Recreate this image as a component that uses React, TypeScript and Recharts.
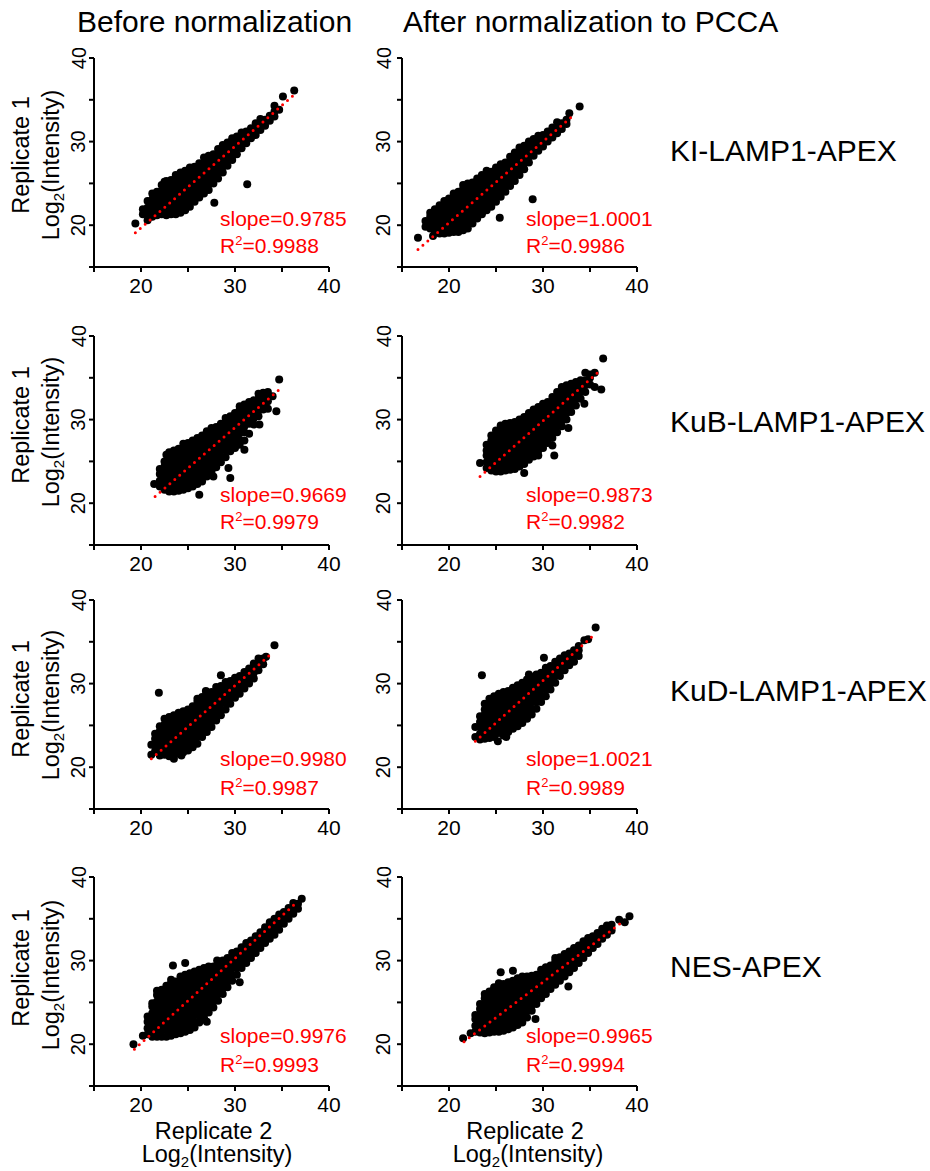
import * as React from "react";
import { ScatterChart, Scatter, XAxis, YAxis } from "recharts";

// each row: [x, y1, y2, ...] (log2 intensities)
const kiBefore = [
  [19.4, 20.2], [20.2, 21.3, 21.9], [20.7, 20.6, 21.4, 22.1, 22.9],
  [21.2, 21.0, 21.6, 22.4, 23.1, 23.8], [21.7, 21.2, 21.9, 22.5, 23.3, 24.0],
  [22.2, 21.3, 22.0, 22.8, 23.4, 24.1, 24.8], [22.5, 25.2],
  [22.7, 21.2, 21.8, 22.6, 23.3, 23.9, 24.7, 25.3], [23.2, 21.3, 22.1, 22.7, 23.5, 24.1, 24.8, 25.4],
  [23.7, 21.3, 22.0, 22.8, 23.4, 24.2, 24.8, 25.5, 26.0], [24.2, 21.5, 22.2, 22.9, 23.7, 24.3, 25.0, 25.6, 26.3],
  [24.7, 21.8, 22.6, 23.2, 23.9, 24.7, 25.3, 26.0, 26.5], [25.2, 22.2, 22.9, 23.7, 24.3, 25.0, 25.8, 26.4, 26.9],
  [25.7, 22.8, 23.5, 24.2, 25.0, 25.6, 26.3, 27.0], [26.2, 23.3, 24.1, 24.7, 25.4, 26.2, 26.8, 27.4],
  [26.7, 23.8, 24.5, 25.3, 25.9, 26.6, 27.3, 28.1], [27.2, 24.2, 25.0, 25.6, 26.4, 27.0, 27.7, 28.3],
  [27.7, 25.0, 25.7, 26.5, 27.1, 27.8, 28.5], [27.8, 22.7], [28.2, 25.6, 26.4, 27.0, 27.7, 28.4, 29.1],
  [28.7, 26.3, 27.0, 27.8, 28.4, 29.1, 29.6], [29.2, 27.1, 27.8, 28.5, 29.3, 29.9],
  [29.7, 27.8, 28.5, 29.2, 29.9, 30.4], [30.2, 28.5, 29.3, 29.9, 30.6], [30.7, 29.2, 29.9, 30.6, 31.1],
  [31.2, 29.8, 30.5, 31.2], [31.3, 24.9], [31.7, 30.4, 31.1, 31.6], [32.2, 30.8, 31.5, 32.2],
  [32.7, 31.4, 32.1, 32.7], [33.2, 31.9, 32.6], [33.7, 32.5, 33.1], [34.2, 33.0, 33.6, 34.3],
  [34.7, 33.8], [35.1, 35.4], [36.3, 36.1],
];

const kiAfter = [
  [16.7, 18.5], [17.5, 19.8, 20.5], [18.0, 19.6, 20.3, 21.0, 21.5], [18.3, 18.7],
  [18.5, 19.2, 19.9, 20.6, 21.3, 21.9], [19.0, 19.0, 19.7, 20.5, 21.1, 21.8, 22.4],
  [19.5, 19.0, 19.8, 20.4, 21.2, 21.8, 22.5, 22.9], [20.0, 19.1, 19.8, 20.6, 21.2, 21.9, 22.7, 23.2],
  [20.5, 19.2, 19.9, 20.7, 21.3, 22.0, 22.8, 23.4, 23.8], [21.0, 19.2, 20.0, 20.6, 21.4, 22.0, 22.7, 23.5, 24.0],
  [21.5, 19.4, 20.1, 20.9, 21.5, 22.2, 23.0, 23.6, 24.3, 24.8],
  [22.0, 19.6, 20.3, 21.0, 21.8, 22.4, 23.1, 23.9, 24.5, 25.0],
  [22.5, 20.2, 20.9, 21.7, 22.3, 23.0, 23.8, 24.4, 25.1], [23.0, 20.8, 21.5, 22.2, 23.0, 23.6, 24.3, 25.0, 25.6],
  [23.5, 21.3, 22.1, 22.7, 23.4, 24.2, 24.8, 25.5, 26.0], [24.0, 21.8, 22.5, 23.3, 23.9, 24.6, 25.4, 26.0, 26.5],
  [24.5, 22.2, 23.0, 23.6, 24.3, 25.1, 25.7, 26.4], [25.0, 22.8, 23.5, 24.3, 24.9, 25.6, 26.3, 26.9],
  [25.4, 20.9], [25.5, 23.4, 24.2, 24.8, 25.5, 26.3, 26.9, 27.3], [26.0, 24.0, 24.7, 25.5, 26.1, 26.8, 27.5],
  [26.5, 24.7, 25.4, 26.1, 26.9, 27.5, 28.2], [27.0, 25.3, 26.1, 26.7, 27.4, 28.1, 28.7],
  [27.5, 26.0, 26.7, 27.5, 28.1, 28.8, 29.3], [28.0, 26.7, 27.4, 28.2, 28.8, 29.5],
  [28.5, 27.5, 28.2, 28.9, 29.6, 30.0], [28.9, 23.1], [29.0, 28.3, 29.0, 29.7, 30.3],
  [29.5, 28.9, 29.6, 30.3, 30.7], [30.0, 29.4, 30.1, 30.8], [30.5, 30.0, 30.6, 31.2],
  [31.0, 30.5, 31.2, 31.7], [31.5, 31.0, 31.6, 32.3], [32.0, 31.5, 32.2], [32.5, 32.1, 32.6],
  [32.8, 33.4], [33.9, 34.2],
];

const kubBefore = [
  [21.4, 22.3], [22.0, 22.0, 22.7, 23.5, 24.1], [22.5, 21.6, 22.3, 23.1, 23.7, 24.4, 25.0], [22.7, 25.8],
  [23.0, 21.4, 22.2, 22.8, 23.5, 24.3, 24.9, 25.6, 26.1], [23.5, 21.4, 22.1, 22.9, 23.5, 24.2, 25.0, 25.6, 26.3],
  [24.0, 21.5, 22.3, 22.9, 23.6, 24.4, 25.0, 25.7, 26.5], [24.5, 21.6, 22.3, 23.1, 23.7, 24.4, 25.2, 25.8, 26.5, 27.1],
  [25.0, 21.8, 22.6, 23.2, 23.9, 24.7, 25.3, 26.0, 26.8, 27.2], [25.5, 22.0, 22.7, 23.5, 24.1, 24.8, 25.6, 26.2, 26.9, 27.5],
  [26.0, 22.3, 23.1, 23.7, 24.4, 25.2, 25.8, 26.5, 27.3, 27.8], [26.2, 21.0],
  [26.5, 22.6, 23.3, 24.1, 24.7, 25.4, 26.2, 26.8, 27.5, 28.1], [27.0, 23.2, 24.0, 24.6, 25.3, 26.1, 26.7, 27.4, 28.2, 28.6],
  [27.5, 23.8, 24.5, 25.3, 25.9, 26.6, 27.4, 28.0, 28.7, 29.0], [27.7, 23.2],
  [28.0, 24.3, 25.1, 25.7, 26.4, 27.2, 27.8, 28.5, 29.1], [28.5, 24.9, 25.6, 26.4, 27.0, 27.7, 28.5, 29.1, 29.5],
  [29.0, 25.5, 26.3, 26.9, 27.6, 28.4, 29.0, 29.7, 30.2], [29.3, 24.2],
  [29.5, 23.0, 26.2, 26.9, 27.7, 28.3, 29.0, 29.8, 30.4], [30.0, 26.6, 27.4, 28.0, 28.7, 29.5, 30.1, 30.8],
  [30.5, 27.0, 27.6, 28.4, 29.1, 29.8, 30.6, 31.2, 31.6], [31.0, 26.4, 27.5, 28.5, 29.2, 29.9, 30.7, 31.3, 31.8],
  [31.5, 28.3, 29.5, 30.2, 30.9, 31.6, 32.1], [32.0, 29.4, 30.2, 30.9, 31.6, 32.3],
  [32.5, 30.4, 31.1, 31.8, 32.5, 33.1], [32.6, 29.4], [33.0, 31.2, 31.9, 32.6, 33.2],
  [33.5, 31.3, 32.2, 32.9, 33.3], [34.0, 32.8], [34.4, 31.0], [34.7, 34.8],
];

const kubAfter = [
  [23.3, 24.8], [24.0, 24.2, 24.9, 25.7, 26.3, 27.0], [24.5, 23.9, 24.6, 25.4, 26.0, 26.7, 27.5, 28.1],
  [25.0, 23.8, 24.5, 25.3, 25.9, 26.6, 27.4, 28.0, 28.7], [25.5, 23.8, 24.6, 25.2, 25.9, 26.7, 27.3, 28.0, 28.8, 29.3],
  [26.0, 23.9, 24.6, 25.4, 26.0, 26.7, 27.5, 28.1, 28.8, 29.5], [26.5, 24.0, 24.8, 25.4, 26.1, 26.9, 27.5, 28.2, 29.0, 29.6],
  [27.0, 24.1, 24.8, 25.6, 26.2, 26.9, 27.7, 28.3, 29.0, 29.7], [27.5, 24.4, 25.2, 25.8, 26.5, 27.3, 27.9, 28.6, 29.4, 30.0],
  [28.0, 23.6, 24.7, 25.4, 26.2, 26.8, 27.5, 28.3, 28.9, 29.6, 30.3],
  [28.5, 25.2, 26.0, 26.6, 27.3, 28.1, 28.7, 29.4, 30.2, 30.8], [29.0, 25.6, 26.3, 27.1, 27.7, 28.4, 29.2, 29.8, 30.5, 31.2],
  [29.5, 25.7, 26.3, 27.0, 27.6, 28.2, 29.0, 29.6, 30.3, 31.1, 31.5],
  [30.0, 26.6, 27.4, 28.0, 28.7, 29.5, 30.1, 30.8, 31.6, 31.9], [30.5, 27.2, 28.0, 28.6, 29.3, 30.1, 30.7, 31.4, 32.1],
  [31.0, 26.9, 27.8, 28.6, 29.2, 29.9, 30.7, 31.3, 32.0, 32.7], [31.2, 25.7],
  [31.5, 28.5, 29.3, 29.9, 30.6, 31.4, 32.0, 32.7, 33.3], [32.0, 29.2, 29.9, 30.7, 31.3, 32.0, 32.8, 33.4, 33.9],
  [32.5, 30.0, 30.8, 31.4, 32.1, 32.9, 33.5, 34.1], [32.7, 29.0], [33.0, 30.9, 31.7, 32.3, 33.0, 33.8, 34.3],
  [33.5, 31.7, 32.5, 33.1, 33.8, 34.5], [34.0, 32.5, 33.3, 33.9, 34.7], [34.4, 31.9],
  [34.5, 33.3, 34.1, 34.7, 35.6], [35.0, 34.2, 35.0, 35.4], [35.5, 33.9, 35.6], [36.2, 33.6], [36.4, 37.3],
];

const kudBefore = [
  [21.1, 21.5, 22.7], [21.5, 21.9, 22.6, 23.4, 24.0], [21.9, 28.9], [22.0, 21.4, 22.2, 22.8, 23.5, 24.3, 24.9],
  [22.5, 21.5, 22.2, 23.0, 23.6, 24.3, 25.1, 25.8], [23.0, 21.3, 22.1, 22.7, 23.4, 24.2, 24.8, 25.5, 26.0],
  [23.5, 21.0, 21.7, 22.5, 23.1, 23.8, 24.6, 25.2, 25.9, 26.2], [24.0, 21.6, 22.4, 23.0, 23.7, 24.5, 25.1, 25.8, 26.5],
  [24.3, 21.4], [24.5, 21.8, 22.5, 23.3, 23.9, 24.6, 25.4, 26.0, 26.7], [25.0, 22.0, 22.8, 23.4, 24.1, 24.9, 25.5, 26.2, 26.9],
  [25.5, 22.4, 23.1, 23.9, 24.5, 25.2, 26.0, 26.6, 27.3], [26.0, 22.8, 23.6, 24.2, 24.9, 25.7, 26.3, 27.0, 27.8, 28.2],
  [26.5, 23.6, 24.3, 25.1, 25.7, 26.4, 27.2, 27.8, 28.4], [26.9, 29.1],
  [27.0, 24.2, 25.0, 25.6, 26.3, 27.1, 27.7, 28.4, 28.9], [27.5, 24.8, 25.5, 26.3, 26.9, 27.6, 28.4, 29.0],
  [28.0, 25.6, 26.4, 27.0, 27.7, 28.5, 29.1, 29.6], [28.5, 26.2, 26.9, 27.7, 28.3, 29.0, 29.7, 31.0],
  [29.0, 26.9, 27.7, 28.3, 29.0, 29.7, 30.2], [29.5, 27.6, 28.3, 29.1, 29.7, 30.3], [30.0, 28.3, 29.0, 29.8, 30.4, 30.7],
  [30.5, 28.8, 29.5, 30.3, 30.9], [31.0, 29.4, 30.2, 30.8, 31.4], [31.5, 30.0, 30.7, 31.4, 31.8],
  [32.0, 30.6, 31.3, 32.0, 32.4], [32.5, 31.6, 32.3, 33.0], [33.0, 32.3, 33.0], [33.3, 33.2], [34.2, 34.6],
];

const kudAfter = [
  [22.8, 23.6, 24.8], [23.3, 23.3, 24.0, 24.8, 25.4, 26.1], [23.5, 31.0],
  [23.8, 23.4, 24.2, 24.8, 25.5, 26.3, 26.9, 27.6], [24.3, 23.5, 24.2, 25.0, 25.6, 26.3, 27.1, 27.7, 28.2],
  [24.8, 23.6, 24.4, 25.0, 25.7, 26.5, 27.1, 27.8, 28.5], [25.2, 23.1],
  [25.3, 24.1, 24.9, 25.5, 26.2, 27.0, 27.6, 28.3, 28.8], [25.8, 23.8, 24.5, 25.3, 25.9, 26.6, 27.4, 28.0, 28.7, 29.0],
  [26.1, 23.6], [26.3, 24.2, 25.0, 25.6, 26.3, 27.1, 27.7, 28.4, 29.1], [26.8, 24.6, 25.3, 26.1, 26.7, 27.4, 28.2, 28.8, 29.5],
  [27.3, 24.9, 25.7, 26.3, 27.0, 27.8, 28.4, 29.1, 29.8], [27.8, 25.3, 26.0, 26.8, 27.4, 28.1, 28.9, 29.5, 30.1],
  [28.3, 25.8, 26.6, 27.2, 27.9, 28.7, 29.3, 30.0, 30.5], [28.5, 31.1],
  [28.8, 26.3, 27.0, 27.8, 28.4, 29.1, 29.9, 30.5, 30.8], [29.3, 27.0, 27.8, 28.4, 29.1, 29.9, 30.5, 31.1],
  [29.8, 27.8, 28.5, 29.3, 29.9, 30.6, 31.3], [30.1, 33.1], [30.3, 28.5, 29.3, 29.9, 30.6, 31.4, 31.9],
  [30.8, 29.3, 30.0, 30.8, 31.4, 32.1], [31.3, 30.1, 30.9, 31.5, 32.2, 32.6], [31.8, 30.9, 31.6, 32.4, 33.0],
  [32.3, 31.6, 32.4, 33.0, 33.4], [32.8, 32.2, 32.9, 33.6], [33.3, 32.6, 33.4, 34.0], [33.8, 33.3, 34.0, 34.5],
  [34.4, 35.2], [34.8, 35.3], [35.6, 36.7],
];

const nesBefore = [
  [19.2, 20.0], [20.2, 21.0], [20.7, 21.2, 21.9, 22.7, 23.3], [21.2, 20.9, 21.6, 22.4, 23.0, 23.7, 24.5, 24.9],
  [21.7, 20.9, 21.7, 22.3, 23.0, 23.8, 24.4, 25.1, 25.9, 26.4], [22.2, 20.9, 21.6, 22.4, 23.0, 23.7, 24.5, 25.1, 25.8, 26.5],
  [22.7, 20.9, 21.7, 22.3, 23.0, 23.8, 24.4, 25.1, 25.9, 26.5, 27.0],
  [23.2, 21.0, 21.7, 22.5, 23.1, 23.8, 24.6, 25.2, 25.9, 26.7, 27.3, 27.7], [23.4, 29.4],
  [23.7, 21.2, 21.9, 22.7, 23.3, 24.0, 24.8, 25.4, 26.1, 26.9, 27.5],
  [24.2, 21.3, 22.1, 22.7, 23.4, 24.2, 24.8, 25.5, 26.3, 26.9, 27.6, 28.1],
  [24.7, 21.5, 22.2, 23.0, 23.6, 24.3, 25.1, 25.7, 26.4, 27.2, 27.8, 28.3, 29.7],
  [25.2, 21.7, 22.5, 23.1, 23.8, 24.6, 25.2, 25.9, 26.7, 27.3, 28.0, 28.5],
  [25.7, 22.0, 22.7, 23.5, 24.1, 24.8, 25.6, 26.2, 26.9, 27.7, 28.3, 28.7],
  [26.2, 22.6, 23.4, 24.0, 24.7, 25.5, 26.1, 26.8, 27.6, 28.2, 28.9],
  [26.7, 23.2, 23.9, 24.7, 25.3, 26.0, 26.8, 27.4, 28.1, 28.8, 29.1], [27.0, 22.7],
  [27.2, 23.8, 24.6, 25.2, 25.9, 26.7, 27.3, 28.0, 28.8, 29.3], [27.7, 24.4, 25.1, 25.9, 26.5, 27.2, 28.0, 28.6, 29.3],
  [28.1, 30.0], [28.2, 25.2, 26.0, 26.6, 27.3, 28.1, 28.7, 29.4, 29.8], [28.7, 26.0, 26.7, 27.5, 28.1, 28.8, 29.6, 30.0],
  [29.2, 26.8, 27.5, 28.3, 28.9, 29.6, 30.3], [29.7, 27.6, 28.3, 29.1, 29.7, 30.4, 30.9],
  [30.2, 28.3, 29.1, 29.7, 30.4, 31.1], [30.5, 27.4], [30.7, 29.1, 29.8, 30.6, 31.2, 31.6],
  [31.2, 29.7, 30.4, 31.2, 31.8, 32.1], [31.7, 30.3, 31.1, 31.7, 32.4], [32.2, 30.9, 31.6, 32.4, 32.9],
  [32.7, 31.5, 32.3, 32.9, 33.4], [33.2, 32.1, 32.8, 33.6, 34.0], [33.7, 32.6, 33.4, 34.0, 34.6],
  [34.2, 33.1, 33.9, 34.5, 35.0], [34.7, 33.7, 34.4, 35.2, 35.5], [35.2, 34.4, 35.1, 35.8],
  [35.7, 35.0, 35.8, 36.3], [36.2, 35.6, 36.4, 36.9], [36.7, 36.2, 36.8], [37.1, 37.4],
];

const nesAfter = [
  [21.5, 20.7], [22.3, 21.3], [22.8, 21.5, 22.2, 23.0, 23.5], [23.3, 21.4, 22.1, 22.9, 23.5, 24.2, 24.8],
  [23.8, 21.3, 22.0, 22.8, 23.4, 24.1, 24.9, 25.5, 26.0], [24.3, 21.4, 22.2, 22.8, 23.5, 24.3, 24.9, 25.6, 26.3],
  [24.8, 21.5, 22.2, 23.0, 23.6, 24.3, 25.1, 25.7, 26.4, 26.8],
  [25.3, 21.5, 22.3, 22.9, 23.6, 24.4, 25.0, 25.7, 26.5, 27.0, 27.3], [25.5, 28.6],
  [25.8, 21.6, 22.3, 23.1, 23.7, 24.4, 25.2, 25.8, 26.5, 27.2], [26.3, 21.8, 22.6, 23.2, 23.9, 24.7, 25.3, 26.0, 26.8, 27.4],
  [26.8, 22.0, 22.7, 23.5, 24.1, 24.8, 25.6, 26.2, 26.9, 27.6, 28.8],
  [27.3, 22.3, 23.1, 23.7, 24.4, 25.2, 25.8, 26.5, 27.3, 27.9], [27.8, 22.6, 23.3, 24.1, 24.7, 25.4, 26.2, 26.8, 27.5, 28.1],
  [28.3, 23.2, 24.0, 24.6, 25.3, 26.1, 26.7, 27.4, 28.1], [28.8, 24.0, 24.7, 25.5, 26.1, 26.8, 27.6, 28.2],
  [29.2, 23.0], [29.3, 24.8, 25.5, 26.3, 26.9, 27.6, 28.3], [29.8, 25.5, 26.3, 26.9, 27.6, 28.4, 28.9],
  [30.3, 26.0, 26.8, 27.4, 28.1, 28.9, 29.2], [30.8, 26.6, 27.3, 28.1, 28.7, 29.4],
  [31.3, 27.1, 27.9, 28.5, 29.2, 29.9, 30.3], [31.8, 27.6, 28.4, 29.0, 29.7, 30.4], [32.3, 28.1, 28.9, 29.5, 30.2, 30.8],
  [32.7, 26.9], [32.8, 28.6, 29.4, 30.0, 30.7, 31.1], [33.3, 29.1, 29.9, 30.5, 31.2, 31.5],
  [33.8, 29.7, 30.4, 31.2, 31.8], [34.3, 30.3, 31.1, 31.7, 32.3], [34.8, 30.9, 31.6, 32.4, 32.7],
  [35.3, 31.5, 32.3, 32.9], [35.8, 32.0, 32.7, 33.3], [36.3, 32.6, 33.4, 33.8], [36.8, 33.1, 33.8, 34.2],
  [37.3, 33.6, 34.3], [38.1, 34.9], [38.7, 34.6], [39.2, 35.3],
];

// regression line end points for each panel
const fitLines = [
  [[19.4, 19.1], [36.5, 35.8]],
  [[16.7, 17.1], [33.4, 33.3]],
  [[21.5, 20.8], [34.6, 33.5]],
  [[23.3, 23.2], [36.2, 36.0]],
  [[21.1, 21.0], [33.9, 33.6]],
  [[22.8, 23.1], [35.4, 35.8]],
  [[19.3, 19.4], [36.7, 37.1]],
  [[21.6, 20.3], [38.3, 34.5]],
];

const panelData = [kiBefore, kiAfter, kubBefore, kubAfter, kudBefore, kudAfter, nesBefore, nesAfter];
const slopeLabels = ["0.9785", "1.0001", "0.9669", "0.9873", "0.9980", "1.0021", "0.9976", "0.9965"];
const r2Labels = ["0.9988", "0.9986", "0.9979", "0.9982", "0.9987", "0.9989", "0.9993", "0.9994"];

const columnTitles = ["Before normalization", "After normalization to PCCA"];
const rowLabels = ["KI-LAMP1-APEX", "KuB-LAMP1-APEX", "KuD-LAMP1-APEX", "NES-APEX"];
const axisTicks = [15, 20, 25, 30, 35, 40];
const labelledTicks = [20, 30, 40];

const FONT = '"Liberation Sans", Arial, Helvetica, sans-serif';
const RED = "#ff0000";

// plot-area boxes in page pixels
const COL_LEFT = [94, 402];
const ROW_TOP = [58, 336, 600, 877];
const PLOT_W = 235;
const PLOT_H = 209;
const Y_AXIS_W = 35;
const X_AXIS_H = 35;
const MARGIN = { top: 10, right: 15, left: 0, bottom: 0 };

const TITLE_X = [77, 403];
const ROW_LABEL_Y = [161, 432, 701, 977];
const STAT_X = [220, 526];
const STAT_Y = [[226, 253], [501.5, 528.5], [766, 794.5], [1043, 1071.5]];
const REP1_Y = [155, 425, 699, 968];
const LOG_Y = [165, 432, 705, 975];
const X_LABEL_CX = [[213.5, 217], [525, 528]];

const toPoints = (cols: number[][]) =>
  cols.flatMap(([x, ...ys]) => ys.map((y) => ({ x, y })));

const Dot = (props: any) => <circle cx={props.cx} cy={props.cy} r={4} fill="#000" />;
const NoDot = () => <g />;

function XTick({ x, y, payload }: any) {
  if (!labelledTicks.includes(payload.value)) return <g />;
  return (
    <text x={x} y={y} dy={18.5} textAnchor="middle" fontSize={21} fontFamily={FONT} fill="#000">
      {payload.value}
    </text>
  );
}

function YTick({ x, y, payload, shift }: any) {
  if (!labelledTicks.includes(payload.value)) return <g />;
  const bx = x - shift;
  return (
    <text
      x={bx}
      y={y}
      textAnchor="middle"
      fontSize={20}
      fontFamily={FONT}
      fill="#000"
      transform={`rotate(-90, ${bx}, ${y})`}
    >
      {payload.value}
    </text>
  );
}

function Panel({ index }: { index: number }) {
  const row = Math.floor(index / 2);
  const col = index % 2;
  const points = toPoints(panelData[index]);
  const fit = fitLines[index].map(([x, y]) => ({ x, y }));
  const width = PLOT_W + Y_AXIS_W + MARGIN.right;
  const height = PLOT_H + X_AXIS_H + MARGIN.top;
  const shift = col === 0 ? 1.5 : 4.5;
  return (
    <div
      style={{
        position: "absolute",
        left: COL_LEFT[col] - Y_AXIS_W,
        top: ROW_TOP[row] - MARGIN.top,
        width,
        height,
      }}
    >
      <ScatterChart width={width} height={height} margin={MARGIN}>
        <XAxis
          type="number"
          dataKey="x"
          domain={[15, 40]}
          ticks={axisTicks}
          interval={0}
          allowDataOverflow
          height={X_AXIS_H}
          axisLine={{ stroke: "#000", strokeWidth: 2 }}
          tickLine={{ stroke: "#000", strokeWidth: 2 }}
          tickSize={5}
          tick={<XTick />}
        />
        <YAxis
          type="number"
          dataKey="y"
          domain={[15, 40]}
          ticks={axisTicks}
          interval={0}
          allowDataOverflow
          width={Y_AXIS_W}
          axisLine={{ stroke: "#000", strokeWidth: 2 }}
          tickLine={{ stroke: "#000", strokeWidth: 2 }}
          tickSize={5}
          tick={(p: any) => <YTick {...p} shift={shift} />}
        />
        <Scatter data={points} shape={Dot} isAnimationActive={false} />
        <Scatter
          data={fit}
          shape={NoDot}
          lineType="joint"
          line={{
            stroke: RED,
            strokeWidth: 3,
            strokeDasharray: "0 6.5",
            strokeLinecap: "round",
            fill: "none",
          }}
          isAnimationActive={false}
        />
      </ScatterChart>
    </div>
  );
}

function LogLabel({ x, y, rotate }: { x: number; y: number; rotate?: boolean }) {
  return (
    <text
      x={x}
      y={y}
      textAnchor="middle"
      fontSize={23.5}
      transform={rotate ? `rotate(-90, ${x}, ${y})` : undefined}
    >
      Log
      <tspan fontSize={15} dy={5}>2</tspan>
      <tspan dy={-5}>(Intensity)</tspan>
    </text>
  );
}

export default function App() {
  return (
    <div
      style={{
        position: "absolute",
        left: 0,
        top: 0,
        width: 930,
        height: 1171,
        background: "#fff",
        overflow: "hidden",
      }}
    >
      {panelData.map((_, i) => (
        <Panel key={i} index={i} />
      ))}
      <svg
        width={930}
        height={1171}
        style={{ position: "absolute", left: 0, top: 0, pointerEvents: "none" }}
        fontFamily={FONT}
        fill="#000"
      >
        {columnTitles.map((t, i) => (
          <text key={t} x={TITLE_X[i]} y={32} fontSize={30}>
            {t}
          </text>
        ))}
        {rowLabels.map((t, i) => (
          <text key={t} x={670} y={ROW_LABEL_Y[i]} fontSize={30}>
            {t}
          </text>
        ))}
        {ROW_TOP.map((_, r) => (
          <g key={`yl${r}`}>
            <text
              x={29}
              y={REP1_Y[r]}
              textAnchor="middle"
              fontSize={23.5}
              transform={`rotate(-90, 29, ${REP1_Y[r]})`}
            >
              Replicate 1
            </text>
            <LogLabel x={59} y={LOG_Y[r]} rotate />
          </g>
        ))}
        {X_LABEL_CX.map(([cx1, cx2], c) => (
          <g key={`xl${c}`}>
            <text x={cx1} y={1139} textAnchor="middle" fontSize={23.5}>
              Replicate 2
            </text>
            <LogLabel x={cx2} y={1162} />
          </g>
        ))}
        {panelData.map((_, i) => {
          const row = Math.floor(i / 2);
          const col = i % 2;
          return (
            <g key={`st${i}`} fill={RED} fontSize={21}>
              <text x={STAT_X[col]} y={STAT_Y[row][0]}>
                slope={slopeLabels[i]}
              </text>
              <text x={STAT_X[col]} y={STAT_Y[row][1]}>
                R<tspan fontSize={13} dy={-8}>2</tspan>
                <tspan dy={8}>={r2Labels[i]}</tspan>
              </text>
            </g>
          );
        })}
      </svg>
    </div>
  );
}
